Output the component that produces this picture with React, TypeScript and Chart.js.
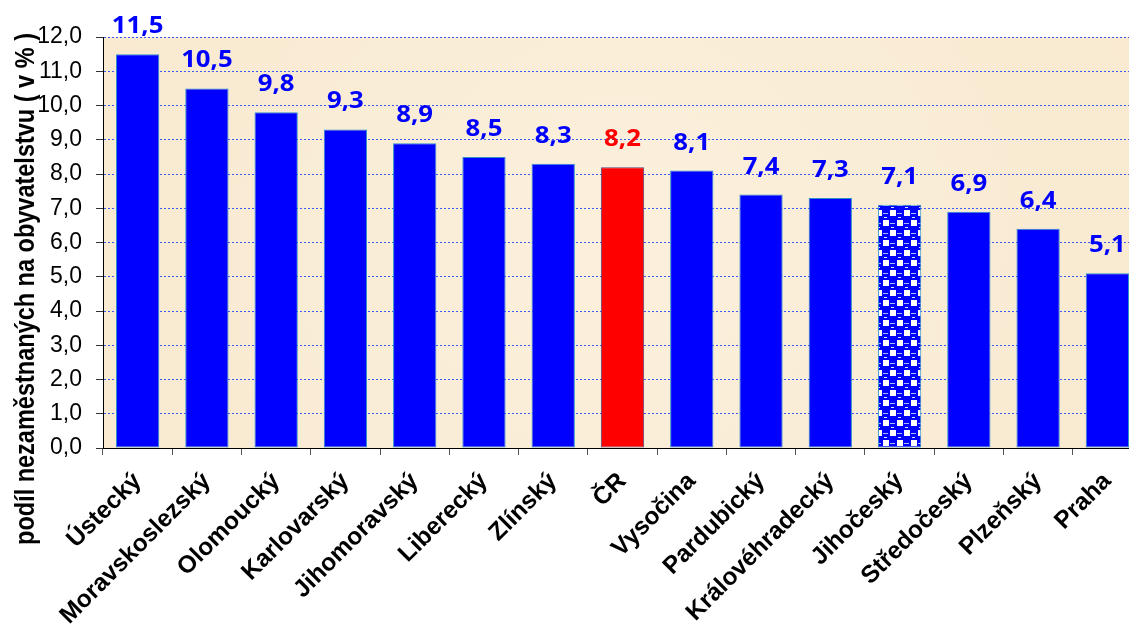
import React, { useEffect, useRef } from "react";
import { Chart, registerables } from "chart.js";

Chart.register(...registerables);

// Regional unemployment share, per cent of population
const categories = [
  "Ústecký",
  "Moravskoslezský",
  "Olomoucký",
  "Karlovarský",
  "Jihomoravský",
  "Liberecký",
  "Zlínský",
  "ČR",
  "Vysočina",
  "Pardubický",
  "Královéhradecký",
  "Jihočeský",
  "Středočeský",
  "Plzeňský",
  "Praha",
];
const values = [11.5, 10.5, 9.8, 9.3, 8.9, 8.5, 8.3, 8.2, 8.1, 7.4, 7.3, 7.1, 6.9, 6.4, 5.1];

const nationalCategory = "ČR";
const patternedCategory = "Jihočeský";

const yMin = 0;
const yMax = 12;
const yStep = 1;

const yTitle = "podíl nezaměstnaných na obyvatelstvu ( v % )";

const CANVAS_W = 1142;
const CANVAS_H = 637;

const fmt = (v: number, digits: number) => v.toFixed(digits).replace(".", ",");

function makeSpherePattern(ctx: CanvasRenderingContext2D): CanvasPattern | string {
  const tile = document.createElement("canvas");
  tile.width = 14;
  tile.height = 20;
  const g = tile.getContext("2d");
  if (!g) return "#0000FF";
  g.fillStyle = "#0000FF";
  g.fillRect(0, 0, 14, 20);
  // white gaps between the spheres
  g.fillStyle = "#FFFFFF";
  g.fillRect(1, 0, 6, 6);
  g.fillRect(8, 10, 6, 6);
  // highlights on the spheres
  g.fillStyle = "#A8BCFF";
  g.fillRect(8, 3, 5, 1);
  g.fillRect(1, 13, 5, 1);
  g.fillStyle = "#E0E6FF";
  g.fillRect(9, 7, 3, 1);
  g.fillRect(2, 17, 3, 1);
  return ctx.createPattern(tile, "repeat") || "#0000FF";
}

const plotBackground = {
  id: "plotBackground",
  beforeDraw(chart: any) {
    const { ctx, chartArea } = chart;
    if (!chartArea) return;
    const { left, top, right, bottom } = chartArea;
    ctx.save();
    ctx.fillStyle = "#FAECD3";
    ctx.fillRect(left, top, right - left, bottom - top);
    const grad = ctx.createRadialGradient(
      (left + right) / 2,
      (top + bottom) / 2,
      80,
      (left + right) / 2,
      (top + bottom) / 2,
      (right - left) / 1.5
    );
    grad.addColorStop(0, "rgba(252,243,228,0.5)");
    grad.addColorStop(1, "rgba(244,226,196,0.3)");
    ctx.fillStyle = grad;
    ctx.fillRect(left, top, right - left, bottom - top);
    ctx.restore();
  },
};

const valueLabels = {
  id: "valueLabels",
  afterDatasetsDraw(chart: any) {
    const { ctx } = chart;
    const meta = chart.getDatasetMeta(0);
    ctx.save();
    ctx.font = "bold 23px 'Open Sans', sans-serif";
    ctx.textAlign = "center";
    ctx.textBaseline = "alphabetic";
    meta.data.forEach((bar: any, i: number) => {
      ctx.save();
      ctx.fillStyle = categories[i] === nationalCategory ? "#FF0000" : "#0000FF";
      ctx.translate(bar.x, bar.y - 21);
      ctx.scale(1.12, 1);
      ctx.fillText(fmt(values[i], 1), 0, 0);
      ctx.restore();
    });
    ctx.restore();
  },
};

const axisTitle = {
  id: "axisTitle",
  afterDraw(chart: any) {
    const { ctx } = chart;
    ctx.save();
    ctx.translate(27, 289);
    ctx.scale(1.15, 1);
    ctx.rotate(-Math.PI / 2);
    ctx.font = "bold 23.5px 'Liberation Sans', Arial, sans-serif";
    ctx.fillStyle = "#000000";
    ctx.textAlign = "center";
    ctx.textBaseline = "middle";
    ctx.fillText(yTitle, 0, 0);
    ctx.restore();
  },
};

export default function App() {
  const canvasRef = useRef<HTMLCanvasElement | null>(null);

  useEffect(() => {
    document.body.style.margin = "0";
    document.body.style.overflow = "hidden";
    const canvas = canvasRef.current;
    if (!canvas) return;
    const ctx = canvas.getContext("2d");
    if (!ctx) return;

    const pattern = makeSpherePattern(ctx);
    const fills = categories.map((c) =>
      c === nationalCategory ? "#FF0000" : c === patternedCategory ? pattern : "#0000FF"
    );
    const borders = categories.map((c) => (c === nationalCategory ? "#5B4677" : "#2F8FCB"));

    const chart = new Chart(ctx, {
      type: "bar",
      data: {
        labels: categories,
        datasets: [
          {
            data: values,
            backgroundColor: fills as any,
            borderColor: borders,
            borderWidth: 1,
            borderSkipped: false,
            categoryPercentage: 1,
            barPercentage: 0.625,
          },
        ],
      },
      options: {
        responsive: false,
        animation: false,
        devicePixelRatio: 1,
        layout: { padding: { top: 37, left: 0, right: 0, bottom: 0 } },
        plugins: {
          legend: { display: false },
          tooltip: { enabled: false },
          title: { display: false },
        },
        scales: {
          x: {
            type: "category",
            grid: {
              display: true,
              drawOnChartArea: false,
              drawTicks: true,
              tickLength: 7,
              tickColor: "#555555",
              offset: true,
            },
            border: { display: true, color: "#000000", width: 1 },
            ticks: {
              autoSkip: false,
              minRotation: 45,
              maxRotation: 45,
              padding: 12,
              color: "#000000",
              font: { family: "'Liberation Sans', Arial, sans-serif", size: 24.5, weight: "bold" },
            },
            afterFit: (scale: any) => {
              scale.height = 189;
            },
          },
          y: {
            min: yMin,
            max: yMax,
            grid: {
              color: "#3A5CF0",
              lineWidth: 1,
              drawTicks: true,
              tickLength: 7,
              tickColor: "#333333",
              tickBorderDash: [],
            },
            border: { display: true, color: "#000000", width: 1, dash: [2, 2] },
            ticks: {
              stepSize: yStep,
              padding: 14,
              color: "#000000",
              font: { family: "'Liberation Sans', Arial, sans-serif", size: 23 },
              callback: (v: any) => fmt(Number(v), 1),
            },
            afterFit: (scale: any) => {
              scale.width = 103;
            },
          },
        },
      },
      plugins: [plotBackground, valueLabels, axisTitle],
    });

    return () => chart.destroy();
  }, []);

  return (
    <div style={{ position: "fixed", left: 0, top: 0, width: 1129, height: 637, overflow: "hidden", background: "#FFFFFF" }}>
      <canvas ref={canvasRef} width={CANVAS_W} height={CANVAS_H} style={{ display: "block" }} />
    </div>
  );
}
